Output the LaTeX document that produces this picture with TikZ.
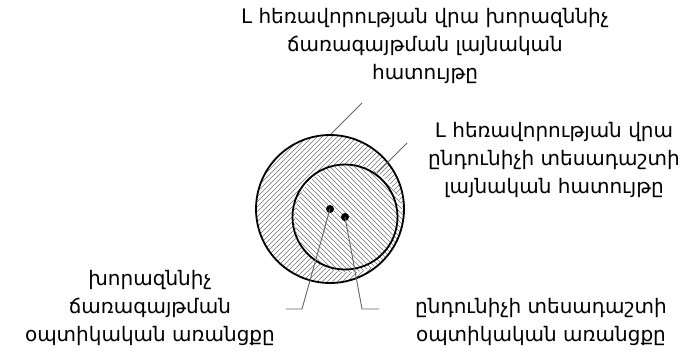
\documentclass[tikz,border=0pt]{standalone}
\usepackage{fontspec}
\setmainfont{DejaVu Sans}
\begin{document}
\begin{tikzpicture}[x=1pt,y=-1pt,
  hatch/.style={draw=black!55,line width=0.6pt},
  ring/.style={draw=black,line width=1.8pt},
  leader/.style={draw=black!60,line width=0.9pt},
  lbl/.style={align=center,inner sep=0pt,font=\fontsize{20}{28}\selectfont},
  dotn/.style={circle,fill=black,inner sep=0pt,minimum size=8pt}]
\useasboundingbox (0,0) rectangle (682,354);
\coordinate (oc) at (330,209);
\coordinate (ic) at (345,217);
% outer hatching
\begin{scope}
  \clip (oc) circle (74);
  \foreach \i in {-160,-155,...,160} \draw[hatch] (330+\i-100,309) -- ++(200,-200);
\end{scope}
% inner hatching
\begin{scope}
  \clip (oc) circle (74);
  \clip (349,218.5) circle (54);
  \fill[white] (349,218.5) circle (54);
  \foreach \i in {-160,-155,...,160} \draw[hatch] (345+\i-100,117) -- ++(200,200);
\end{scope}
\draw[ring] (oc) circle (74);
\draw[ring] (ic) circle (52.5);
\node[dotn] (d1) at (oc) {};
\node[dotn] (d2) at (ic) {};
% labels
\node[lbl] (top) at (425,46) {L հեռավորության վրա խորազննիչ\\ճառագայթման լայնական\\հատույթը};
\node[lbl] (right) at (554,160) {L հեռավորության վրա\\ընդունիչի տեսադաշտի\\լայնական հատույթը};
\node[lbl] (bl) at (150,308) {խորազննիչ\\ճառագայթման\\օպտիկական առանցքը};
\node[lbl] (br) at (541,322) {ընդունիչի տեսադաշտի\\օպտիկական առանցքը};
% leader points
\coordinate (t1) at (331,134);
\coordinate (t2) at (362,103);
\coordinate (r1) at (377,173);
\coordinate (r2) at (407,143);
\coordinate (b1) at (302,309);
\coordinate (b1e) at (286,309);
\coordinate (b2) at (362,309);
\coordinate (b2e) at (379,309);
\draw[leader] (t1) -- (t2);
\draw[leader] (r1) -- (r2);
\draw[leader] (d1.center) -- (b1) -- (b1e);
\draw[leader] (d2.center) -- (b2) -- (b2e);
\end{tikzpicture}
\end{document}
